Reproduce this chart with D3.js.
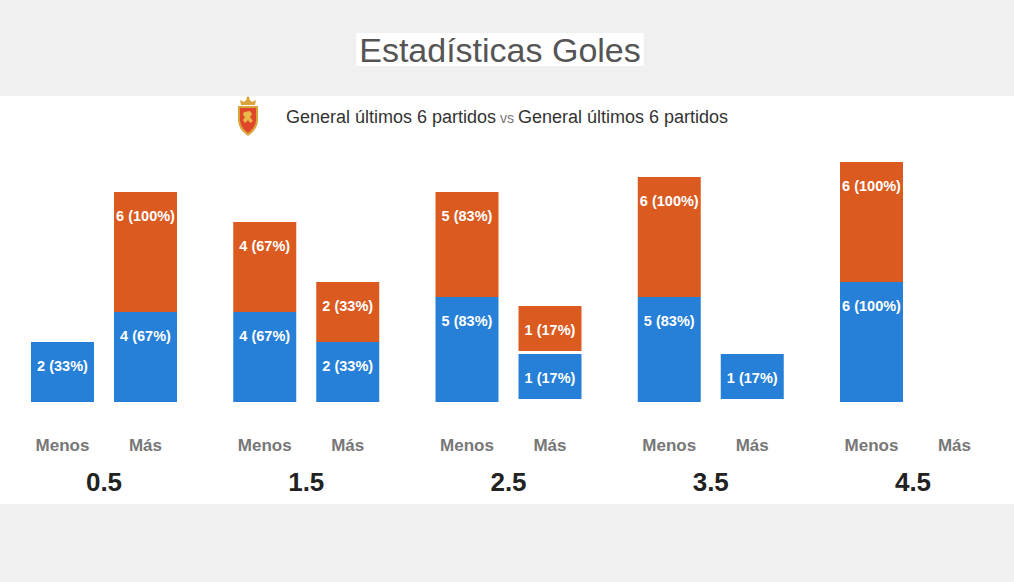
<!DOCTYPE html>
<html>
<head>
<meta charset="utf-8">
<script src="https://cdn.jsdelivr.net/npm/d3@7"></script>
<style>
  body { margin: 0; background: #f0f0f0; }
  svg text { font-family: "Liberation Sans", Arial, sans-serif; }
</style>
</head>
<body>
<svg id="mainSvg" width="1014" height="582"></svg>
<script>
// data
var grupos = ["0.5", "1.5", "2.5", "3.5", "4.5"];
var lados = ["Menos", "Más"];
var totalPartidos = 6;
// [Menos, Más] per group
var local = [[2, 4], [4, 2], [5, 1], [5, 1], [6, 0]];      // blue, bottom
var visitante = [[0, 6], [4, 2], [5, 1], [6, 0], [6, 0]];  // orange, top
var titulo = "Estadísticas Goles";
var subtitulo = ["General últimos 6 partidos", "vs", "General últimos 6 partidos"];

var colores = { local: "#2680d8", visitante: "#db5a1f" };

var svg = d3.select("#mainSvg");

// backgrounds
svg.append("rect").attr("width", 1014).attr("height", 582).attr("fill", "#f0f0f0");
svg.append("rect").attr("y", 96).attr("width", 1014).attr("height", 408).attr("fill", "#ffffff");

// title with white box
var tBox = svg.append("rect").attr("fill", "#ffffff");
var tText = svg.append("text")
  .attr("x", 500).attr("y", 62)
  .attr("text-anchor", "middle")
  .style("font-size", "34px")
  .attr("fill", "#555555")
  .text(titulo);
var bb = tText.node().getBBox();
tBox.attr("x", bb.x - 3).attr("y", 33).attr("width", bb.width + 6).attr("height", 33);

// crest
var crest = svg.append("g").attr("transform", "translate(248,117)");
crest.append("path")
  .attr("d", "M-7,-12 L-8,-17 L-4,-15 L0,-19 L4,-15 L8,-17 L7,-12 Z")
  .attr("fill", "#d9a43a");
crest.append("circle").attr("cx", 0).attr("cy", -19).attr("r", 1.5).attr("fill", "#d9a43a");
crest.append("path")
  .attr("d", "M-10,-11 L10,-11 L10,3 Q10,12 0,19 Q-10,12 -10,3 Z")
  .attr("fill", "#d9a43a");
crest.append("path")
  .attr("d", "M-8,-9 L8,-9 L8,3 Q8,10 0,16 Q-8,10 -8,3 Z")
  .attr("fill", "#e0462a");
crest.append("path")
  .attr("d", "M-4,-5 L2,-6 L4,-3 L2,0 L5,4 L2,6 L0,3 L-3,6 L-5,3 L-3,0 L-5,-2 Z")
  .attr("fill", "#e8b84a");

// subtitle
var sub = svg.append("text").attr("x", 286).attr("y", 123).attr("fill", "#333333").style("font-size", "18px");
sub.append("tspan").text(subtitulo[0]);
sub.append("tspan").attr("fill", "#777777").style("font-size", "14px").text(" " + subtitulo[1] + " ");
sub.append("tspan").text(subtitulo[2]);

// scales
var baseY = 402;
var x = d3.scaleBand()
  .domain(grupos)
  .range([31, 31 + 5 * 202.25 - 56.25])
  .paddingInner(56.25 / 202.25)
  .paddingOuter(0);

var xIn = d3.scaleBand()
  .domain(lados)
  .range([0, x.bandwidth()])
  .paddingInner(20 / 83);

// segment height: 0 -> 30px, 6 -> 120px
var h = d3.scaleLinear().domain([0, totalPartidos]).range([30, 120]);
var minBloque = 48;

function pct(v) { return v + " (" + Math.round(v / totalPartidos * 100) + "%)"; }

// build segments
var segmentos = [];
grupos.forEach(function(g, gi) {
  lados.forEach(function(l, li) {
    var top = baseY;
    [["local", local[gi][li]], ["visitante", visitante[gi][li]]].forEach(function(s) {
      var v = s[1];
      if (v <= 0) return;
      var alto = h(v);
      var bloque = Math.max(alto, minBloque);
      top -= bloque;
      segmentos.push({ grupo: g, lado: l, serie: s[0], valor: v, y: top, alto: alto });
    });
  });
});

var chart = svg.append("g");

chart.selectAll(".bar")
  .data(segmentos)
  .enter().append("rect")
  .attr("class", "bar")
  .attr("x", function(d) { return x(d.grupo) + xIn(d.lado); })
  .attr("y", function(d) { return d.y; })
  .attr("width", xIn.bandwidth())
  .attr("height", function(d) { return d.alto; })
  .attr("fill", function(d) { return colores[d.serie]; });

chart.selectAll(".barLabel")
  .data(segmentos)
  .enter().append("text")
  .attr("class", "barLabel")
  .attr("x", function(d) { return x(d.grupo) + xIn(d.lado) + xIn.bandwidth() / 2; })
  .attr("y", function(d) { return d.y + 29; })
  .attr("text-anchor", "middle")
  .attr("fill", "#ffffff")
  .style("font-size", "14.5px")
  .style("font-weight", "bold")
  .text(function(d) { return pct(d.valor); });

// Menos / Más labels
grupos.forEach(function(g) {
  chart.selectAll(null)
    .data(lados)
    .enter().append("text")
    .attr("x", function(l) { return x(g) + xIn(l) + xIn.bandwidth() / 2; })
    .attr("y", 451)
    .attr("text-anchor", "middle")
    .attr("fill", "#777777")
    .style("font-size", "17px")
    .style("font-weight", "bold")
    .text(function(l) { return l; });
});

// group labels
chart.selectAll(".grupoLabel")
  .data(grupos)
  .enter().append("text")
  .attr("class", "grupoLabel")
  .attr("x", function(g) { return x(g) + x.bandwidth() / 2; })
  .attr("y", 491)
  .attr("text-anchor", "middle")
  .attr("fill", "#222222")
  .style("font-size", "26px")
  .style("font-weight", "bold")
  .text(function(g) { return g; });
</script>
</body>
</html>
